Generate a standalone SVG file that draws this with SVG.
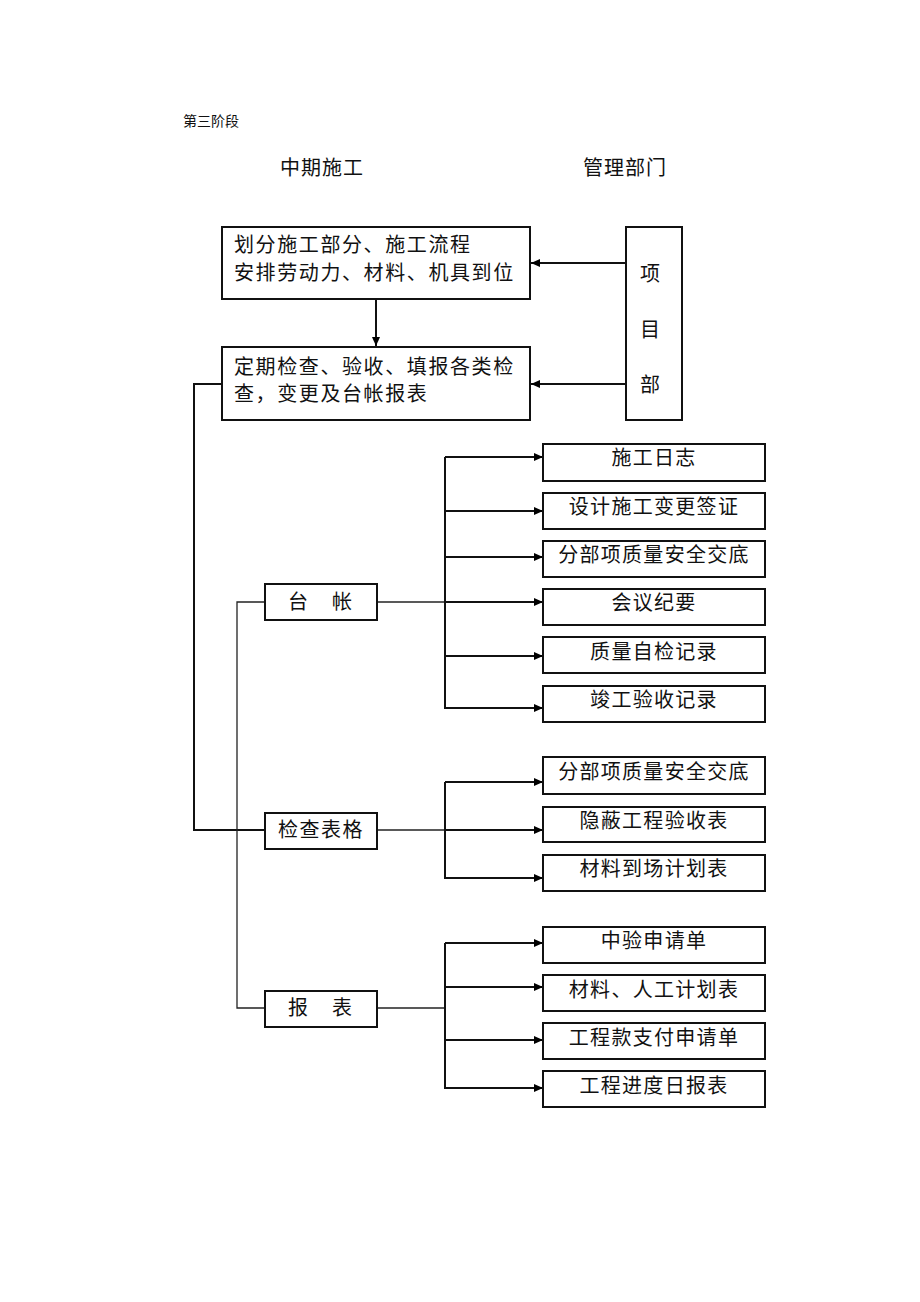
<svg xmlns="http://www.w3.org/2000/svg" width="920" height="1302" viewBox="0 0 920 1302">
<defs>
<marker id="ah" markerUnits="userSpaceOnUse" markerWidth="10" markerHeight="10" refX="9" refY="5" orient="auto">
<path d="M0,1 L9,5 L0,9 Z" fill="#000"/>
</marker>
<style>
text{font-family:"Noto Sans CJK SC","Noto Sans",sans-serif;fill:#111;}
.box{fill:#fff;stroke:#111;stroke-width:2;}
.t{font-size:20px;}
.c{font-size:20px;text-anchor:middle;letter-spacing:1.3px;}
.arr{stroke:#111;stroke-width:2;fill:none;marker-end:url(#ah);}
.ln{stroke:#111;stroke-width:2;fill:none;}
.thin{stroke:#222;stroke-width:1.3;fill:none;}
</style>
</defs>
<rect width="920" height="1302" fill="#fff"/>

<g id="headers">
<text x="183" y="126" style="font-size:14px">第三阶段</text>
<text x="322" y="175" class="t" text-anchor="middle" letter-spacing="1">中期施工</text>
<text x="625" y="175" class="t" text-anchor="middle" letter-spacing="1">管理部门</text>
</g>

<g id="connectors">
<line class="arr" x1="376" y1="299" x2="376" y2="346"/>
<line class="arr" x1="626" y1="263" x2="531" y2="263"/>
<line class="arr" x1="626" y1="384" x2="531" y2="384"/>
<polyline class="ln" points="222,384 194,384 194,830 265,830"/>
<polyline class="thin" points="265,602 237,602 237,1008 265,1008"/>
<line class="thin" x1="377" y1="602" x2="445" y2="602"/>
<line class="thin" x1="377" y1="830" x2="445" y2="830"/>
<line class="thin" x1="377" y1="1008" x2="445" y2="1008"/>
<line class="ln" x1="445" y1="457" x2="445" y2="709"/>
<line class="arr" x1="445" y1="457" x2="543" y2="457"/>
<line class="arr" x1="445" y1="511" x2="543" y2="511"/>
<line class="arr" x1="445" y1="557" x2="543" y2="557"/>
<line class="arr" x1="445" y1="602" x2="543" y2="602"/>
<line class="arr" x1="445" y1="656" x2="543" y2="656"/>
<line class="arr" x1="445" y1="708" x2="543" y2="708"/>
<line class="ln" x1="445" y1="782" x2="445" y2="879"/>
<line class="arr" x1="445" y1="782" x2="543" y2="782"/>
<line class="arr" x1="445" y1="830" x2="543" y2="830"/>
<line class="arr" x1="445" y1="878" x2="543" y2="878"/>
<line class="ln" x1="445" y1="943" x2="445" y2="1089"/>
<line class="arr" x1="445" y1="943" x2="543" y2="943"/>
<line class="arr" x1="445" y1="987" x2="543" y2="987"/>
<line class="arr" x1="445" y1="1040" x2="543" y2="1040"/>
<line class="arr" x1="445" y1="1088" x2="543" y2="1088"/>
</g>

<g id="n-plan">
<rect class="box" x="222" y="227" width="308" height="72"/>
<text x="234" y="252" class="t" letter-spacing="1.6">划分施工部分、施工流程</text>
<text x="234" y="280" class="t" letter-spacing="1.6">安排劳动力、材料、机具到位</text>
</g>
<g id="n-check">
<rect class="box" x="222" y="347" width="308" height="73"/>
<text x="234" y="374" class="t" letter-spacing="1.6">定期检查、验收、填报各类检</text>
<text x="234" y="401" class="t" letter-spacing="1.6">查，变更及台帐报表</text>
</g>
<g id="n-xmb">
<rect class="box" x="626" y="227" width="56" height="193"/>
<text x="650" y="281" class="t" text-anchor="middle">项</text>
<text x="650" y="337" class="t" text-anchor="middle">目</text>
<text x="650" y="392" class="t" text-anchor="middle">部</text>
</g>

<g id="n-taizhang">
<rect class="box" x="265" y="584" width="112" height="36"/>
<text x="321" y="609" class="t" text-anchor="middle" letter-spacing="2">台　帐</text>
</g>
<g id="n-jcbg">
<rect class="box" x="265" y="813" width="112" height="36"/>
<text x="321" y="837" class="t" text-anchor="middle" letter-spacing="1.5">检查表格</text>
</g>
<g id="n-baobiao">
<rect class="box" x="265" y="991" width="112" height="36"/>
<text x="321" y="1015" class="t" text-anchor="middle" letter-spacing="2">报　表</text>
</g>

<g id="n-r1"><rect class="box" x="543" y="444" width="222" height="37"/><text x="654" y="465" class="c">施工日志</text></g>
<g id="n-r2"><rect class="box" x="543" y="493" width="222" height="36"/><text x="654" y="514" class="c">设计施工变更签证</text></g>
<g id="n-r3"><rect class="box" x="543" y="541" width="222" height="36"/><text x="654" y="562" class="c">分部项质量安全交底</text></g>
<g id="n-r4"><rect class="box" x="543" y="589" width="222" height="36"/><text x="654" y="610" class="c">会议纪要</text></g>
<g id="n-r5"><rect class="box" x="543" y="637" width="222" height="36"/><text x="654" y="659" class="c">质量自检记录</text></g>
<g id="n-r6"><rect class="box" x="543" y="686" width="222" height="36"/><text x="654" y="707" class="c">竣工验收记录</text></g>

<g id="n-r7"><rect class="box" x="543" y="757" width="222" height="37"/><text x="654" y="779" class="c">分部项质量安全交底</text></g>
<g id="n-r8"><rect class="box" x="543" y="807" width="222" height="35"/><text x="654" y="828" class="c">隐蔽工程验收表</text></g>
<g id="n-r9"><rect class="box" x="543" y="855" width="222" height="36"/><text x="654" y="876" class="c">材料到场计划表</text></g>

<g id="n-r10"><rect class="box" x="543" y="927" width="222" height="36"/><text x="654" y="948" class="c">中验申请单</text></g>
<g id="n-r11"><rect class="box" x="543" y="975" width="222" height="36"/><text x="654" y="997" class="c">材料、人工计划表</text></g>
<g id="n-r12"><rect class="box" x="543" y="1023" width="222" height="36"/><text x="654" y="1045" class="c">工程款支付申请单</text></g>
<g id="n-r13"><rect class="box" x="543" y="1071" width="222" height="36"/><text x="654" y="1093" class="c">工程进度日报表</text></g>
</svg>
